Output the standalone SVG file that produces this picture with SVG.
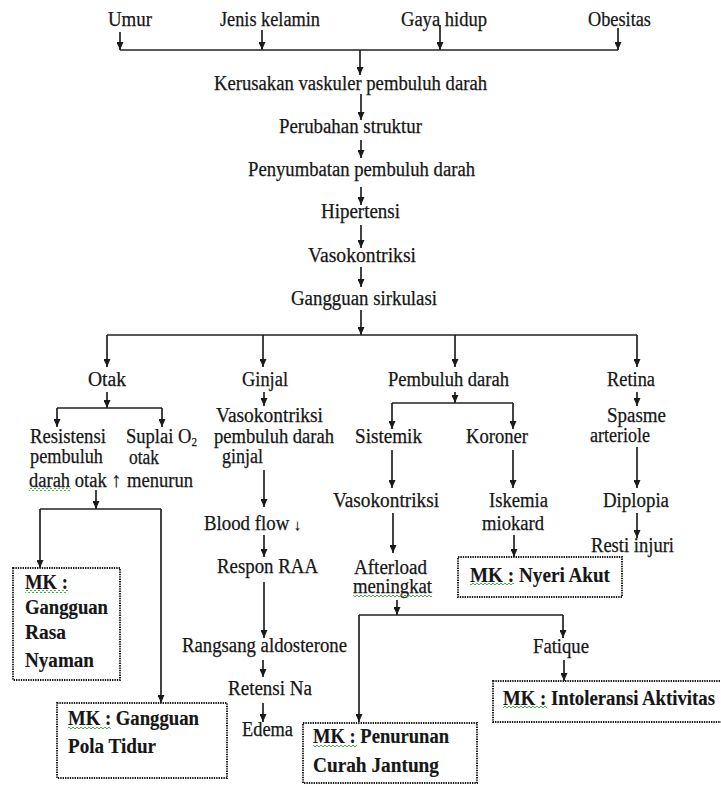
<svg xmlns="http://www.w3.org/2000/svg" width="721" height="785" viewBox="0 0 721 785" font-family="'Liberation Serif', 'Times New Roman', serif">
<style>
text{font-family:"Liberation Serif","Times New Roman",serif;font-size:20px;fill:#161616;stroke:#161616;stroke-width:0.25}
.b{font-weight:bold;stroke-width:0.15}
.ln{stroke:#222;stroke-width:1.7;fill:none}
.ar{stroke:#222;stroke-width:1.7;fill:none;marker-end:url(#ah)}
.box{fill:#fff;stroke:#1a1a1a;stroke-width:1.9;stroke-dasharray:1.4 1}
.sq{fill:url(#wave);stroke:none}
</style>
<defs>
<marker id="ah" viewBox="0 0 8 7" refX="8" refY="3.5" markerWidth="8" markerHeight="7" markerUnits="userSpaceOnUse" orient="auto">
<path d="M0,0 L8,3.5 L0,7 Z" fill="#1a1a1a"/>
</marker>
<pattern id="wave" width="4" height="3" patternUnits="userSpaceOnUse">
<path d="M0,2 Q1,0 2,2 T4,2" fill="none" stroke="#3aa63a" stroke-width="0.9"/>
</pattern>
</defs>
<rect width="721" height="785" fill="#fff"/>

<g id="connectors">
<path class="ar" d="M120,32 V50"/>
<path class="ar" d="M262,30 V50"/>
<path class="ar" d="M440,25 V50"/>
<path class="ar" d="M618,28 V50"/>
<path class="ln" d="M120,50 H618"/>
<path class="ar" d="M360,50 V75"/>
<path class="ar" d="M361,94 V120"/>
<path class="ar" d="M361,140 V158"/>
<path class="ar" d="M361,187 V205"/>
<path class="ar" d="M361,225 V248"/>
<path class="ar" d="M361,267 V287"/>
<path class="ar" d="M361,310 V335"/>
<path class="ln" d="M107,335 H637"/>
<path class="ar" d="M107,335 V367"/>
<path class="ar" d="M263,335 V367"/>
<path class="ar" d="M455,335 V367"/>
<path class="ar" d="M637,335 V367"/>
<path class="ar" d="M107,392 V408"/>
<path class="ln" d="M57,408 H162"/>
<path class="ar" d="M57,408 V427"/>
<path class="ar" d="M162,408 V427"/>
<path class="ar" d="M96,490 V509"/>
<path class="ln" d="M40,509 H161"/>
<path class="ar" d="M40,509 V568"/>
<path class="ar" d="M161,509 V703"/>
<path class="ar" d="M264,392 V406"/>
<path class="ar" d="M264,470 V507"/>
<path class="ar" d="M264,535 V557"/>
<path class="ar" d="M264,582 V638"/>
<path class="ar" d="M263,660 V677"/>
<path class="ar" d="M263,703 V722"/>
<path class="ar" d="M455,392 V403"/>
<path class="ln" d="M392,403 H513"/>
<path class="ar" d="M392,403 V429"/>
<path class="ar" d="M513,403 V429"/>
<path class="ar" d="M392,450 V488"/>
<path class="ar" d="M513,450 V488"/>
<path class="ar" d="M393,513 V553"/>
<path class="ar" d="M514,535 V557"/>
<path class="ar" d="M397,600 V615"/>
<path class="ln" d="M359,615 H563"/>
<path class="ar" d="M359,615 V722"/>
<path class="ar" d="M563,615 V638"/>
<path class="ar" d="M564,660 V681"/>
<path class="ar" d="M637,392 V406"/>
<path class="ar" d="M637,447 V488"/>
<path class="ar" d="M637,513 V538"/>
</g>

<g id="n-umur"><text x="108" y="26" textLength="44" lengthAdjust="spacingAndGlyphs">Umur</text></g>
<g id="n-jenis"><text x="220" y="26" textLength="100" lengthAdjust="spacingAndGlyphs">Jenis kelamin</text></g>
<g id="n-gaya"><text x="401" y="26" textLength="86" lengthAdjust="spacingAndGlyphs">Gaya hidup</text></g>
<g id="n-obesitas"><text x="588" y="26" textLength="63" lengthAdjust="spacingAndGlyphs">Obesitas</text></g>
<g id="n-kerusakan"><text x="214" y="90" textLength="273" lengthAdjust="spacingAndGlyphs">Kerusakan vaskuler pembuluh darah</text></g>
<g id="n-perubahan"><text x="279" y="133" textLength="143" lengthAdjust="spacingAndGlyphs">Perubahan struktur</text></g>
<g id="n-penyumbatan"><text x="248" y="176" textLength="227" lengthAdjust="spacingAndGlyphs">Penyumbatan pembuluh darah</text></g>
<g id="n-hipertensi"><text x="321" y="218" textLength="79" lengthAdjust="spacingAndGlyphs">Hipertensi</text></g>
<g id="n-vaso1"><text x="308" y="262" textLength="108" lengthAdjust="spacingAndGlyphs">Vasokontriksi</text></g>
<g id="n-gangguan"><text x="291" y="305" textLength="146" lengthAdjust="spacingAndGlyphs">Gangguan sirkulasi</text></g>

<g id="n-otak"><text x="88" y="386" textLength="38" lengthAdjust="spacingAndGlyphs">Otak</text></g>
<g id="n-ginjal"><text x="242" y="386" textLength="46" lengthAdjust="spacingAndGlyphs">Ginjal</text></g>
<g id="n-pembuluh"><text x="388" y="386" textLength="121" lengthAdjust="spacingAndGlyphs">Pembuluh darah</text></g>
<g id="n-retina"><text x="607" y="386" textLength="48" lengthAdjust="spacingAndGlyphs">Retina</text></g>

<g id="n-resistensi">
<text x="30" y="443" textLength="76" lengthAdjust="spacingAndGlyphs">Resistensi</text>
<text x="30" y="463" textLength="73" lengthAdjust="spacingAndGlyphs">pembuluh</text>
<text x="29" y="487" textLength="92" lengthAdjust="spacingAndGlyphs">darah otak <tspan style="font-size:21px;font-weight:bold">↑</tspan></text>
<rect class="sq" x="29" y="488" width="42" height="3"/>
</g>
<g id="n-suplai">
<text x="126" y="443" textLength="71" lengthAdjust="spacingAndGlyphs">Suplai O<tspan style="font-size:12px" dy="3">2</tspan></text>
<text x="129" y="464" textLength="30" lengthAdjust="spacingAndGlyphs">otak</text>
<text x="127" y="487" textLength="66" lengthAdjust="spacingAndGlyphs">menurun</text>
</g>

<g id="n-vaso-ginjal">
<text x="216" y="422" textLength="107" lengthAdjust="spacingAndGlyphs">Vasokontriksi</text>
<text x="214" y="443" textLength="120" lengthAdjust="spacingAndGlyphs">pembuluh darah</text>
<text x="222" y="463" textLength="41" lengthAdjust="spacingAndGlyphs">ginjal</text>
</g>
<g id="n-blood"><text x="204" y="530" textLength="97" lengthAdjust="spacingAndGlyphs">Blood flow <tspan style="font-size:15px;font-weight:bold">↓</tspan></text></g>
<g id="n-respon"><text x="217" y="573" textLength="101" lengthAdjust="spacingAndGlyphs">Respon RAA</text></g>
<g id="n-rangsang"><text x="182" y="652" textLength="165" lengthAdjust="spacingAndGlyphs">Rangsang aldosterone</text></g>
<g id="n-retensi"><text x="228" y="695" textLength="84" lengthAdjust="spacingAndGlyphs">Retensi Na</text></g>
<g id="n-edema"><text x="242" y="736" textLength="51" lengthAdjust="spacingAndGlyphs">Edema</text></g>

<g id="n-sistemik"><text x="355" y="443" textLength="67" lengthAdjust="spacingAndGlyphs">Sistemik</text></g>
<g id="n-koroner"><text x="466" y="443" textLength="62" lengthAdjust="spacingAndGlyphs">Koroner</text></g>
<g id="n-vaso2"><text x="333" y="507" textLength="106" lengthAdjust="spacingAndGlyphs">Vasokontriksi</text></g>
<g id="n-iskemia">
<text x="489" y="507" textLength="59" lengthAdjust="spacingAndGlyphs">Iskemia</text>
<text x="482" y="530" textLength="62" lengthAdjust="spacingAndGlyphs">miokard</text>
</g>
<g id="n-afterload">
<text x="354" y="574" textLength="73" lengthAdjust="spacingAndGlyphs">Afterload</text>
<text x="353" y="593" textLength="79" lengthAdjust="spacingAndGlyphs">meningkat</text>
<rect class="sq" x="353" y="594" width="79" height="3"/>
</g>
<g id="n-fatique"><text x="533" y="653" textLength="56" lengthAdjust="spacingAndGlyphs">Fatique</text></g>

<g id="n-spasme">
<text x="607" y="422" textLength="59" lengthAdjust="spacingAndGlyphs">Spasme</text>
<text x="590" y="442" textLength="60" lengthAdjust="spacingAndGlyphs">arteriole</text>
</g>
<g id="n-diplopia"><text x="603" y="507" textLength="66" lengthAdjust="spacingAndGlyphs">Diplopia</text></g>
<g id="n-resti"><text x="591" y="552" textLength="83" lengthAdjust="spacingAndGlyphs">Resti injuri</text></g>

<g id="mk-rasa-nyaman">
<rect class="box" x="13" y="568" width="107" height="112"/>
<text class="b" x="25" y="589" textLength="43" lengthAdjust="spacingAndGlyphs">MK :</text>
<rect class="sq" x="25" y="590" width="43" height="3"/>
<text class="b" x="25" y="614" textLength="83" lengthAdjust="spacingAndGlyphs">Gangguan</text>
<text class="b" x="25" y="639" textLength="41" lengthAdjust="spacingAndGlyphs">Rasa</text>
<text class="b" x="25" y="667" textLength="69" lengthAdjust="spacingAndGlyphs">Nyaman</text>
</g>
<g id="mk-pola-tidur">
<rect class="box" x="57" y="703" width="170" height="75"/>
<text class="b" x="68" y="725" textLength="131" lengthAdjust="spacingAndGlyphs">MK : Gangguan</text>
<rect class="sq" x="68" y="726" width="43" height="3"/>
<text class="b" x="68" y="753" textLength="88" lengthAdjust="spacingAndGlyphs">Pola Tidur</text>
</g>
<g id="mk-nyeri">
<rect class="box" x="458" y="557" width="164" height="40"/>
<text class="b" x="470" y="582" textLength="140" lengthAdjust="spacingAndGlyphs">MK : Nyeri Akut</text>
<rect class="sq" x="470" y="583" width="44" height="3"/>
</g>
<g id="mk-penurunan">
<rect class="box" x="303" y="723" width="174" height="60"/>
<text class="b" x="313" y="743" textLength="136" lengthAdjust="spacingAndGlyphs">MK : Penurunan</text>
<rect class="sq" x="313" y="744" width="44" height="3"/>
<text class="b" x="313" y="772" textLength="126" lengthAdjust="spacingAndGlyphs">Curah Jantung</text>
</g>
<g id="mk-intoleransi">
<rect class="box" x="493" y="681" width="232" height="41"/>
<text class="b" x="503" y="705" textLength="212" lengthAdjust="spacingAndGlyphs">MK : Intoleransi Aktivitas</text>
<rect class="sq" x="503" y="706" width="44" height="3"/>
</g>
</svg>
